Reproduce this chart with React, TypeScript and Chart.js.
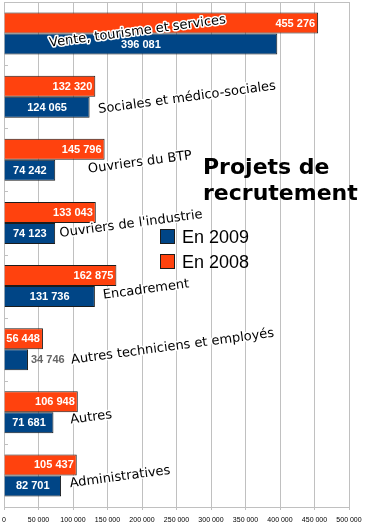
import React, { useEffect, useRef } from "react";
import { Chart, registerables } from "chart.js";

Chart.register(...registerables);

const categories = [
  "Vente, tourisme et services",
  "Sociales et médico-sociales",
  "Ouvriers du BTP",
  "Ouvriers de l'industrie",
  "Encadrement",
  "Autres techniciens et employés",
  "Autres",
  "Administratives",
];
const values2008 = [455276, 132320, 145796, 133043, 162875, 56448, 106948, 105437];
const values2009 = [396081, 124065, 74242, 74123, 131736, 34746, 71681, 82701];
const seriesNames = ["En 2009", "En 2008"];
const titleLines = ["Projets de", "recrutement"];
const axisMax = 500000;
const axisStep = 50000;

const ORANGE = "#ff420e";
const BLUE = "#004586";
const GRID = "#c0c0c0";
const EDGE = "#1c1c1c";

const fmt = (v: number) => String(v).replace(/\B(?=(\d{3})+(?!\d))/g, " ");

// layout of the rotated category labels: [dx from plot left, dy from category centre] of baseline midpoint
const labelLayout = {
  anchors: [
    [134, 1.4],
    [183.5, 4.5],
    [136.5, 6],
    [127.5, 4.5],
    [142.5, 7],
    [169, 1],
    [87.5, 8.5],
    [116.5, 5],
  ],
  angle: (-7.6 * Math.PI) / 180,
};

const decorPlugin = {
  id: "decor",
  beforeDatasetsDraw(chart: any) {
    const { ctx, chartArea } = chart;
    const y = chart.scales.y;
    ctx.save();
    ctx.strokeStyle = GRID;
    ctx.lineWidth = 1;
    ctx.beginPath();
    ctx.moveTo(chartArea.left, Math.round(chartArea.top) + 0.5);
    ctx.lineTo(chartArea.right, Math.round(chartArea.top) + 0.5);
    for (let i = 1; i < categories.length; i++) {
      const py = Math.round(y.getPixelForValue(i - 0.5)) + 0.5;
      ctx.moveTo(chartArea.left, py);
      ctx.lineTo(chartArea.left + 4, py);
    }
    ctx.stroke();
    ctx.restore();
  },
  afterDatasetsDraw(chart: any) {
    const { ctx, chartArea } = chart;
    const y = chart.scales.y;
    ctx.save();
    // value labels
    ctx.font = "bold 11px 'Liberation Sans', Arial, sans-serif";
    ctx.textBaseline = "middle";
    chart.data.datasets.forEach((ds: any, di: number) => {
      const meta = chart.getDatasetMeta(di);
      meta.data.forEach((bar: any, i: number) => {
        const txt = fmt(ds.data[i]);
        const w = ctx.measureText(txt).width;
        const len = bar.x - bar.base;
        if (w + 4 > len) {
          ctx.fillStyle = "#666666";
          ctx.textAlign = "left";
          ctx.fillText(txt, bar.x + 3, bar.y + 0.5);
        } else if (di === 0) {
          ctx.fillStyle = "#ffffff";
          ctx.textAlign = "right";
          ctx.fillText(txt, bar.x - 3, bar.y + 0.5);
        } else {
          ctx.fillStyle = "#ffffff";
          ctx.textAlign = "center";
          ctx.fillText(txt, (bar.x + bar.base) / 2, bar.y + 0.5);
        }
      });
    });
    // rotated category labels
    ctx.font = "13px 'DejaVu Sans', sans-serif";
    ctx.textAlign = "center";
    ctx.textBaseline = "alphabetic";
    ctx.lineJoin = "round";
    categories.forEach((c, i) => {
      const [dx, dy] = labelLayout.anchors[i];
      const cx = chartArea.left + dx;
      const cy = y.getPixelForValue(i) + dy;
      ctx.save();
      ctx.translate(cx, cy);
      ctx.rotate(labelLayout.angle);
      ctx.strokeStyle = "#ffffff";
      ctx.lineWidth = 3;
      ctx.strokeText(c, 0, 0);
      ctx.fillStyle = "#000000";
      ctx.fillText(c, 0, 0);
      ctx.restore();
    });
    ctx.restore();
  },
  afterDraw(chart: any) {
    const { ctx } = chart;
    ctx.save();
    // title
    ctx.fillStyle = "#000000";
    ctx.font = "bold 22px 'DejaVu Sans', sans-serif";
    ctx.textAlign = "left";
    ctx.textBaseline = "alphabetic";
    ctx.fillText(titleLines[0], 203, 174);
    ctx.fillText(titleLines[1], 203, 200);
    // legend
    const colors = [BLUE, ORANGE];
    const tops = [229.5, 254.5];
    ctx.font = "18px 'Liberation Sans', Arial, sans-serif";
    seriesNames.forEach((n, i) => {
      ctx.fillStyle = colors[i];
      ctx.fillRect(160.5, tops[i], 14, 14);
      ctx.strokeStyle = EDGE;
      ctx.lineWidth = 1;
      ctx.strokeRect(160.5, tops[i], 14, 14);
      ctx.fillStyle = "#000000";
      ctx.fillText(n, 182, tops[i] + 13.5);
    });
    ctx.restore();
  },
};

export default function App() {
  const ref = useRef<HTMLCanvasElement | null>(null);
  useEffect(() => {
    if (!ref.current) return;
    const chart = new Chart(ref.current, {
      type: "bar",
      data: {
        labels: categories,
        datasets: [
          {
            label: seriesNames[1],
            data: values2008,
            backgroundColor: ORANGE,
            borderColor: EDGE,
            borderWidth: 1,
            categoryPercentage: 0.667,
            barPercentage: 1,
          },
          {
            label: seriesNames[0],
            data: values2009,
            backgroundColor: BLUE,
            borderColor: EDGE,
            borderWidth: 1,
            categoryPercentage: 0.667,
            barPercentage: 1,
          },
        ],
      },
      options: {
        indexAxis: "y",
        responsive: false,
        animation: false,
        layout: { padding: { left: 4, right: 20, top: 2, bottom: 0 } },
        plugins: { legend: { display: false }, tooltip: { enabled: false }, title: { display: false } },
        scales: {
          x: {
            min: 0,
            max: axisMax,
            afterFit: (s: any) => {
              s.height = 19;
              s.paddingLeft = 0;
            },
            ticks: {
              stepSize: axisStep,
              color: "#000000",
              padding: 6,
              maxRotation: 0,
              autoSkip: false,
              font: { family: "'Liberation Sans', Arial, sans-serif", size: 7 },
              callback: (v: any) => fmt(Number(v)),
            },
            grid: { color: GRID, tickLength: 3, tickColor: GRID },
            border: { color: GRID },
          },
          y: {
            display: false,
            offset: true,
          },
        },
      },
      plugins: [decorPlugin],
    });
    return () => chart.destroy();
  }, []);
  return (
    <div style={{ position: "absolute", left: 0, top: 0, width: 369, height: 526, background: "#ffffff" }}>
      <canvas ref={ref} width={369} height={526} style={{ display: "block" }} />
    </div>
  );
}
